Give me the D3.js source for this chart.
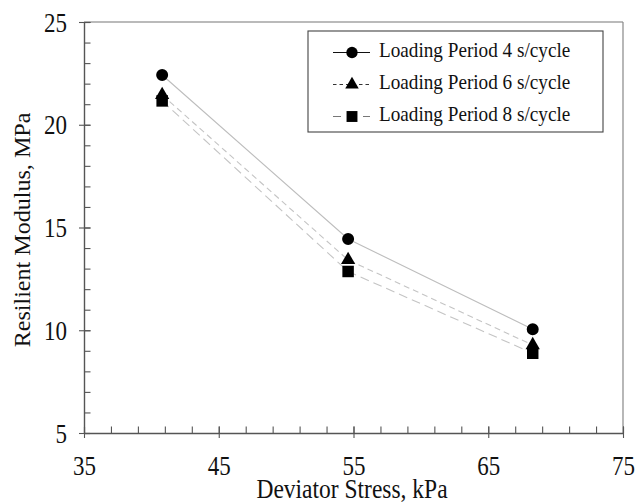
<!DOCTYPE html>
<html>
<head>
<meta charset="utf-8">
<script src="https://cdn.jsdelivr.net/npm/d3@7"></script>
<style>
  html, body { margin: 0; padding: 0; background: #fff; }
  svg { display: block; }
  text { font-family: "Liberation Serif", "Times New Roman", serif; fill: #111; }
</style>
</head>
<body>
<svg id="chart" width="637" height="504"></svg>
<script>
// ---- Data ----
const stress = [40.8, 54.6, 68.3];
const period4 = [22.42, 14.44, 10.05];
const period6 = [21.45, 13.42, 9.28];
const period8 = [21.16, 12.86, 8.88];
const seriesNames = ["Loading Period 4 s/cycle", "Loading Period 6 s/cycle", "Loading Period 8 s/cycle"];
const xTicks = [35, 45, 55, 65, 75];
const yTicks = [5, 10, 15, 20, 25];
const xMinorTicks = d3.range(35, 75.01, 2);
const yMinorTicks = d3.range(5, 25.01, 1);

// ---- Layout ----
const svg = d3.select("#chart");
const L = 84, R = 623, T = 22, B = 433;
const x = d3.scaleLinear().domain([35, 75]).range([L, R]);
const y = d3.scaleLinear().domain([5, 25]).range([B, T]);
const axisColor = "#555";
const vs = 1.15; // vertical stretch of glyphs

// frame top and right
svg.append("line").attr("x1", L).attr("x2", R).attr("y1", T).attr("y2", T)
  .attr("stroke", "#777").attr("stroke-width", 1.2);
svg.append("line").attr("x1", R).attr("x2", R).attr("y1", T).attr("y2", B)
  .attr("stroke", "#888").attr("stroke-width", 1.2);

// minor ticks (inward)
const gyMinor = svg.append("g").attr("transform", `translate(${L},0)`)
  .call(d3.axisLeft(y).tickValues(yMinorTicks).tickSizeInner(-6.5).tickSizeOuter(0).tickFormat(""));
const gxMinor = svg.append("g").attr("transform", `translate(0,${B})`)
  .call(d3.axisBottom(x).tickValues(xMinorTicks).tickSizeInner(-6.5).tickSizeOuter(0).tickFormat(""));
[gyMinor, gxMinor].forEach(g => {
  g.selectAll("line").attr("stroke", axisColor).attr("stroke-width", 1.1);
  g.select(".domain").attr("stroke", axisColor).attr("stroke-width", 1.4);
});

// major ticks + labels
const gy = svg.append("g").attr("transform", `translate(${L},0)`)
  .call(d3.axisLeft(y).tickValues(yTicks).tickSize(5).tickPadding(12).tickFormat(d3.format("d")));
gy.select(".domain").remove();
gy.selectAll(".tick line").attr("x1", 6.5).attr("stroke", axisColor).attr("stroke-width", 1.1);
gy.selectAll(".tick text")
  .attr("font-family", "Liberation Serif").attr("font-size", 23).attr("fill", "#111")
  .attr("dy", "0.34em").attr("transform", `scale(1,${vs})`);

const gx = svg.append("g").attr("transform", `translate(0,${B})`)
  .call(d3.axisBottom(x).tickValues(xTicks).tickSize(5).tickFormat(d3.format("d")));
gx.select(".domain").remove();
gx.selectAll(".tick line").attr("y1", -6.5).attr("stroke", axisColor).attr("stroke-width", 1.1);
gx.selectAll(".tick text")
  .attr("font-family", "Liberation Serif").attr("font-size", 23).attr("fill", "#111")
  .attr("dy", 0).attr("y", 42 / vs).attr("transform", `scale(1,${vs})`);

// axis titles
svg.append("text")
  .attr("transform", `translate(352,497.5) scale(1,${vs})`)
  .attr("text-anchor", "middle").attr("font-size", 23.5)
  .text("Deviator Stress, kPa");
svg.append("text")
  .attr("transform", `translate(30,230) rotate(-90) scale(1.07,1)`)
  .attr("text-anchor", "middle").attr("font-size", 22.5)
  .text("Resilient Modulus, MPa");

// ---- Series ----
const series = [
  { name: seriesNames[0], values: period4, symbol: d3.symbolCircle, size: 113, dash: null, lineColor: "#bdbdbd", legColor: "#111", legDash: null },
  { name: seriesNames[1], values: period6, symbol: d3.symbolTriangle, size: 88, dash: "6,4", lineColor: "#c4c4c4", legColor: "#333", legDash: "3.5,3" },
  { name: seriesNames[2], values: period8, symbol: d3.symbolSquare, size: 132, dash: "9,5", lineColor: "#c4c4c4", legColor: "#777", legDash: "8,22" }
];

const line = d3.line().x(d => x(d[0])).y(d => y(d[1]));

series.forEach(s => {
  const pts = stress.map((v, i) => [v, s.values[i]]);
  svg.append("path").datum(pts).attr("d", line)
    .attr("fill", "none").attr("stroke", s.lineColor).attr("stroke-width", 1.1)
    .attr("stroke-dasharray", s.dash);
});
series.slice().reverse().forEach(s => {
  const pts = stress.map((v, i) => [v, s.values[i]]);
  svg.append("g").selectAll("path").data(pts).join("path")
    .attr("d", d3.symbol().type(s.symbol).size(s.size))
    .attr("transform", d => `translate(${x(d[0])},${y(d[1])})`)
    .attr("fill", "#000");
});

// ---- Legend ----
const lg = svg.append("g");
lg.append("rect").attr("x", 308).attr("y", 31).attr("width", 295).attr("height", 101)
  .attr("fill", "#fff").attr("stroke", "#444").attr("stroke-width", 1.1);
const rowY = [52.5, 84.5, 116.5];
series.forEach((s, i) => {
  const cy = rowY[i];
  const ln = lg.append("line").attr("x1", 333).attr("x2", 370).attr("y1", cy).attr("y2", cy)
    .attr("stroke", s.legColor).attr("stroke-width", 1.1);
  if (s.legDash) ln.attr("stroke-dasharray", s.legDash);
  lg.append("path").attr("d", d3.symbol().type(s.symbol).size(s.size * 0.9))
    .attr("transform", `translate(352,${cy})`).attr("fill", "#000");
  lg.append("text").attr("x", 379).attr("y", cy + 4.5).attr("dy", 0)
    .attr("font-size", 19.2)
    .attr("transform", `translate(0,${(cy + 4.5)}) scale(1,1.06) translate(0,${-(cy + 4.5)})`)
    .text(s.name);
});
</script>
</body>
</html>
